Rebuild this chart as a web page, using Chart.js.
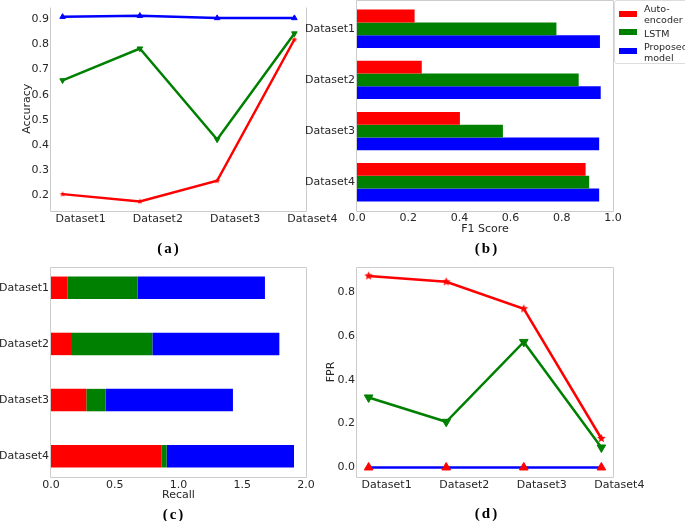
<!DOCTYPE html>
<html><head><meta charset="utf-8">
<script src="https://cdn.jsdelivr.net/npm/chart.js@4"></script>
<style>
html,body{margin:0;padding:0;background:#fff;width:685px;height:521px;overflow:hidden;position:relative;font-family:"DejaVu Sans",sans-serif;}
canvas{position:absolute;}
.lab{position:absolute;font-family:"Liberation Serif",serif;font-weight:bold;font-size:15px;color:#000;transform:translate(-50%,-50%);letter-spacing:2px;white-space:nowrap;}
#legend{position:absolute;left:614px;top:0px;width:90px;height:64px;border:1px solid #dddddd;border-radius:3px;background:#fff;box-sizing:border-box;}
.sw{position:absolute;width:18px;height:6px;}
.lt{position:absolute;font-family:"DejaVu Sans",sans-serif;font-size:9.5px;line-height:11px;color:#262626;white-space:pre;}
</style></head>
<body>
<canvas id="ca" width="345" height="260" style="left:0;top:0"></canvas>
<canvas id="cb" width="385" height="255" style="left:300px;top:0"></canvas>
<canvas id="cc" width="340" height="266" style="left:0;top:255px"></canvas>
<canvas id="cd" width="360" height="266" style="left:325px;top:255px"></canvas>
<div id="legend"></div>
<div class="lab" style="left:169px;top:248px">(a)</div>
<div class="lab" style="left:487px;top:248px">(b)</div>
<div class="lab" style="left:174px;top:514px">(c)</div>
<div class="lab" style="left:487px;top:513px">(d)</div>
<script>
const categories = ['Dataset1','Dataset2','Dataset3','Dataset4'];
const seriesNames = ['Auto-\nencoder','LSTM','Proposed\nmodel'];
const seriesColors = ['#ff0000','#008000','#0000ff'];

const accuracyAE   = [0.205, 0.176, 0.258, 0.819];
const accuracyLSTM = [0.657, 0.783, 0.422, 0.843];
const accuracyProp = [0.909, 0.913, 0.904, 0.904];

const f1AE   = [0.225, 0.253, 0.402, 0.893];
const f1LSTM = [0.779, 0.866, 0.570, 0.907];
const f1Prop = [0.949, 0.952, 0.946, 0.946];

const recallAE   = [0.128, 0.157, 0.277, 0.865];
const recallLSTM = [0.552, 0.638, 0.152, 0.042];
const recallProp = [0.998, 0.996, 0.998, 0.999];

const fprAE   = [0.873, 0.846, 0.723, 0.132];
const fprLSTM = [0.319, 0.208, 0.572, 0.091];
const fprProp = [0.0, 0.0, 0.0, 0.0];

const accuracyTicks = [0.2,0.3,0.4,0.5,0.6,0.7,0.8,0.9];
const f1Ticks = [0.0,0.2,0.4,0.6,0.8,1.0];
const recallTicks = [0.0,0.5,1.0,1.5,2.0];
const fprTicks = [0.0,0.2,0.4,0.6,0.8];
const catTicks = [0,1,2,3];

const TXT = '#262626';
const FONT = {family:'DejaVu Sans', size:11};

// legend (HTML)
(function(){
  const lg = document.getElementById('legend');
  const sw = [10,28,47], tt = [1.5,26.5,39.5];
  seriesNames.forEach((n,i)=>{
    const s = document.createElement('div'); s.className='sw';
    s.style.left='4px'; s.style.top=sw[i]+'px'; s.style.background=seriesColors[i]; lg.appendChild(s);
    const t = document.createElement('div'); t.className='lt';
    t.style.left='29px'; t.style.top=tt[i]+'px'; t.textContent=n; lg.appendChild(t);
  });
})();

function starImg(r, color){
  const s = Math.ceil(r*2+2);
  const c = document.createElement('canvas'); c.width=s; c.height=s;
  const g = c.getContext('2d'); g.fillStyle=color; g.beginPath();
  for(let i=0;i<10;i++){
    const a = -Math.PI/2 + i*Math.PI/5;
    const rr = (i%2) ? r*0.45 : r;
    g.lineTo(s/2+rr*Math.cos(a), s/2+rr*Math.sin(a));
  }
  g.closePath(); g.fill(); return c;
}

const framePlugin = {
  id:'frame',
  afterDatasetsDraw(chart, args, opts){
    const {left,top,right,bottom} = chart.chartArea;
    const ctx = chart.ctx; ctx.save();
    ctx.strokeStyle='#cccccc'; ctx.lineWidth=1;
    const l=Math.round(left)-0.5, r=Math.round(right)+0.5, t=Math.round(top)+0.5, b=Math.round(bottom)+0.5;
    ctx.beginPath();
    if(opts.top){ ctx.moveTo(l,b); ctx.lineTo(l,t); ctx.lineTo(r,t); ctx.lineTo(r,b); ctx.lineTo(l,b); }
    else { ctx.moveTo(l,t); ctx.lineTo(l,b); ctx.lineTo(r,b); ctx.lineTo(r,t); }
    ctx.stroke(); ctx.restore();
  }
};

const numFmt = v => v.toFixed(1);
const catFmt = v => categories[Math.round(v)];

function scale(o){
  const s = {
    type:'linear', min:o.min, max:o.max, reverse:!!o.reverse, offset:false,
    grid:{display:false, drawTicks:false, offset:false}, border:{display:false},
    afterBuildTicks: s => { s.ticks = o.ticks.map(v=>({value:v})); },
    ticks:{color:TXT, font:FONT, padding:o.pad, autoSkip:false, maxRotation:0, minRotation:0,
      callback:o.fmt, labelOffset:o.labelOffset||0},
    title: o.title ? {display:true, text:o.title, color:TXT, font:FONT, padding:o.titlePad} : {display:false},
    afterFit: s => {
      if(o.isX){ s.height=o.size; s.paddingLeft=0; s.paddingRight=0; }
      else { s.width=o.size; s.paddingTop=0; s.paddingBottom=0; }
    }
  };
  if(o.stacked) s.stacked = true;
  return s;
}

function pts(arr){ return arr.map((v,i)=>({x:i,y:v})); }
function hpts(arr){ return arr.map((v,i)=>({x:v,y:i})); }

const common = {responsive:false, animation:false, events:[],
  plugins:{legend:{display:false}, tooltip:{enabled:false}}};

// (a) Accuracy
new Chart(document.getElementById('ca'), {
  type:'line',
  data:{datasets:[
    {data:pts(accuracyAE), borderColor:seriesColors[0], borderWidth:2.5, pointStyle:starImg(3,seriesColors[0]), pointRadius:3, order:3},
    {data:pts(accuracyLSTM), borderColor:seriesColors[1], borderWidth:2.5, pointStyle:'triangle', pointRotation:180, pointRadius:3.2, pointBackgroundColor:seriesColors[1], pointBorderColor:seriesColors[1], pointBorderWidth:1, order:2},
    {data:pts(accuracyProp), borderColor:seriesColors[2], borderWidth:2.5, pointStyle:'triangle', pointRadius:3.2, pointBackgroundColor:seriesColors[2], pointBorderColor:seriesColors[2], pointBorderWidth:1, order:1}
  ]},
  options:Object.assign({}, common, {
    layout:{padding:{left:0,right:39,top:0,bottom:0}},
    plugins:Object.assign({}, common.plugins, {frame:{top:false}}),
    scales:{
      x:scale({isX:true, min:-0.15, max:3.15, ticks:catTicks, fmt:catFmt, size:49, pad:2, labelOffset:18}),
      y:scale({min:0.138, max:0.95, ticks:accuracyTicks, fmt:numFmt, size:51, pad:2, title:'Accuracy', titlePad:{top:21,bottom:0}})
    }
  }),
  plugins:[framePlugin]
});

// (b) F1 Score
new Chart(document.getElementById('cb'), {
  type:'bar',
  data:{datasets:[
    {data:hpts(f1AE), backgroundColor:seriesColors[0]},
    {data:hpts(f1LSTM), backgroundColor:seriesColors[1]},
    {data:hpts(f1Prop), backgroundColor:seriesColors[2]}
  ]},
  options:Object.assign({}, common, {
    indexAxis:'y',
    datasets:{bar:{categoryPercentage:0.75, barPercentage:1.0, borderWidth:0}},
    layout:{padding:{left:0,right:72,top:0,bottom:0}},
    plugins:Object.assign({}, common.plugins, {frame:{top:true}}),
    scales:{
      x:scale({isX:true, min:0, max:1, ticks:f1Ticks, fmt:numFmt, size:44, pad:1, title:'F1 Score', titlePad:{top:0,bottom:19}}),
      y:scale({min:-0.5625, max:3.5625, reverse:true, ticks:catTicks, fmt:catFmt, size:57, pad:2})
    }
  }),
  plugins:[framePlugin]
});

// (c) Recall (stacked)
new Chart(document.getElementById('cc'), {
  type:'bar',
  data:{datasets:[
    {data:hpts(recallAE), backgroundColor:seriesColors[0], stack:'r'},
    {data:hpts(recallLSTM), backgroundColor:seriesColors[1], stack:'r'},
    {data:hpts(recallProp), backgroundColor:seriesColors[2], stack:'r'}
  ]},
  options:Object.assign({}, common, {
    indexAxis:'y',
    datasets:{bar:{categoryPercentage:0.4, barPercentage:1.0, borderWidth:0}},
    layout:{padding:{left:0,right:34,top:12,bottom:0}},
    plugins:Object.assign({}, common.plugins, {frame:{top:true}}),
    scales:{
      x:scale({isX:true, min:0, max:2, stacked:true, ticks:recallTicks, fmt:numFmt, size:44, pad:2, title:'Recall', titlePad:{top:0,bottom:19}}),
      y:scale({min:-0.37, max:3.37, reverse:true, ticks:catTicks, fmt:catFmt, size:51, pad:2})
    }
  }),
  plugins:[framePlugin]
});

// (d) FPR
new Chart(document.getElementById('cd'), {
  type:'line',
  data:{datasets:[
    {data:pts(fprAE), borderColor:seriesColors[0], borderWidth:2.5, pointStyle:starImg(4.5,seriesColors[0]), pointRadius:4, order:3},
    {data:pts(fprLSTM), borderColor:seriesColors[1], borderWidth:2.5, pointStyle:'triangle', pointRotation:180, pointRadius:5, pointBackgroundColor:seriesColors[1], pointBorderColor:seriesColors[1], pointBorderWidth:1, order:2},
    {data:pts(fprProp), borderColor:seriesColors[2], borderWidth:2.5, pointStyle:'triangle', pointRadius:5, pointBackgroundColor:seriesColors[0], pointBorderColor:seriesColors[0], pointBorderWidth:1, order:1}
  ]},
  options:Object.assign({}, common, {
    layout:{padding:{left:0,right:72,top:12,bottom:0}},
    plugins:Object.assign({}, common.plugins, {frame:{top:true}}),
    scales:{
      x:scale({isX:true, min:-0.15, max:3.15, ticks:catTicks, fmt:catFmt, size:44, pad:2, labelOffset:18}),
      y:scale({min:-0.0435, max:0.9135, ticks:fprTicks, fmt:numFmt, size:32, pad:2, title:'FPR', titlePad:{top:0,bottom:0}})
    }
  }),
  plugins:[framePlugin]
});
</script>
</body></html>
